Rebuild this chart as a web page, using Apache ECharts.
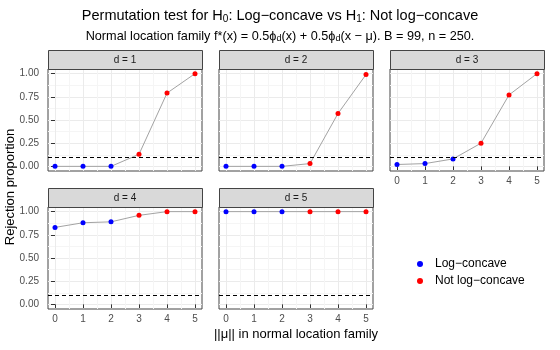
<!DOCTYPE html>
<html>
<head>
<meta charset="utf-8">
<script src="https://cdn.jsdelivr.net/npm/echarts@6/dist/echarts.min.js"></script>
<style>
    html, body { margin: 0; padding: 0; background: #fff; }
    #main { width: 560px; height: 350px; }
</style>
</head>
<body>
<div id="main"></div>
<script>
// ||mu|| on the x axis
var mu = [0, 1, 2, 3, 4, 5];
// mixture is log-concave for ||mu|| <= 2
var logConcave = [true, true, true, false, false, false];
var panelNames = ['d = 1', 'd = 2', 'd = 3', 'd = 4', 'd = 5'];
// rejection proportions, one array per dimension
var d1 = [0.00, 0.00, 0.00, 0.13, 0.79, 1.00];
var d2 = [0.00, 0.00, 0.00, 0.03, 0.57, 0.99];
var d3 = [0.02, 0.03, 0.08, 0.25, 0.77, 1.00];
var d4 = [0.83, 0.88, 0.89, 0.96, 1.00, 1.00];
var d5 = [1.00, 1.00, 1.00, 1.00, 1.00, 1.00];
var panelData = [d1, d2, d3, d4, d5];
var alphaLevel = 0.1;
var xTicks = [0, 1, 2, 3, 4, 5];
var yTicks = [0, 0.25, 0.5, 0.75, 1];
var seriesNames = ['Log\u2212concave', 'Not log\u2212concave'];

var FONT = '"Liberation Sans", Arial, sans-serif';

// panel layout (facet_wrap, 3 columns)
var colLeft = [48, 219, 390];
var rowTop = [69, 207];
var panelW = 154, panelH = 102, stripH = 19;

var chart = echarts.init(document.getElementById('main'));

var grids = [], xAxes = [], yAxes = [], series = [], graphics = [];

panelData.forEach(function (vals, i) {
    var r = i < 3 ? 0 : 1;
    var c = i % 3;
    var showX = (i >= 2);      // panels with nothing below them
    var showY = (c === 0);

    grids.push({
        left: colLeft[c], top: rowTop[r], width: panelW, height: panelH,
        show: true, backgroundColor: '#fff', borderColor: '#444', borderWidth: 1,
        containLabel: false, outerBoundsMode: 'none'
    });

    xAxes.push({
        gridIndex: i, type: 'value', min: -0.25, max: 5.25,
        minInterval: 1, maxInterval: 1, splitNumber: 5,
        axisLine: { show: false },
        axisTick: { show: showX, length: 4, customValues: xTicks, lineStyle: { color: '#333' } },
        axisLabel: {
            show: showX, customValues: xTicks, margin: 5, color: '#4D4D4D',
            fontSize: 10, fontFamily: FONT,
            formatter: function (v) { return Number.isInteger(v) ? String(v) : ''; }
        },
        splitLine: { show: true, lineStyle: { color: '#EBEBEB', width: 1 } },
        minorTick: { show: false, splitNumber: 2 },
        minorSplitLine: { show: true, lineStyle: { color: '#F5F5F5', width: 1 } }
    });

    yAxes.push({
        gridIndex: i, type: 'value', min: -0.05, max: 1.05,
        minInterval: 0.25, maxInterval: 0.25, splitNumber: 4,
        axisLine: { show: false },
        axisTick: { show: showY, length: 4, customValues: yTicks, lineStyle: { color: '#333' } },
        axisLabel: {
            show: showY, customValues: yTicks, margin: 9, color: '#4D4D4D',
            fontSize: 10, fontFamily: FONT,
            formatter: function (v) {
                return (v >= 0 && v <= 1 && Math.abs(v * 4 - Math.round(v * 4)) < 1e-9) ? v.toFixed(2) : '';
            }
        },
        splitLine: { show: true, lineStyle: { color: '#EBEBEB', width: 1 } },
        minorTick: { show: false, splitNumber: 2 },
        minorSplitLine: { show: true, lineStyle: { color: '#F5F5F5', width: 1 } }
    });

    // grey connecting line + dashed level line
    series.push({
        type: 'line', xAxisIndex: i, yAxisIndex: i, silent: true,
        symbol: 'none', z: 2,
        data: mu.map(function (m, j) { return [m, vals[j]]; }),
        lineStyle: { color: '#A3A3A3', width: 1 },
        markLine: {
            symbol: 'none', silent: true, animation: false,
            label: { show: false },
            lineStyle: { color: '#000', type: [4, 3], width: 1 },
            data: [{ yAxis: alphaLevel }]
        }
    });

    // points coloured by log-concavity
    [true, false].forEach(function (flag, k) {
        series.push({
            name: seriesNames[k], type: 'scatter', xAxisIndex: i, yAxisIndex: i,
            symbolSize: 5, z: 3,
            itemStyle: { color: flag ? '#0000FF' : '#FF0000', opacity: 1 },
            data: mu.map(function (m, j) { return [m, vals[j]]; })
                    .filter(function (p, j) { return logConcave[j] === flag; })
        });
    });

    // facet strip
    graphics.push({
        type: 'rect', z: 10,
        shape: { x: colLeft[c] + 0.5, y: rowTop[r] - stripH + 0.5, width: panelW, height: stripH },
        style: { fill: '#D9D9D9', stroke: '#444', lineWidth: 1 }
    });
    graphics.push({
        type: 'text', z: 11,
        x: colLeft[c] + panelW / 2, y: rowTop[r] - stripH / 2 + 1,
        style: {
            text: panelNames[i], fill: '#1A1A1A', font: '10px ' + FONT,
            align: 'center', verticalAlign: 'middle'
        }
    });
});

// axis titles
graphics.push({
    type: 'text', x: 10, y: 187, rotation: Math.PI / 2,
    style: { text: 'Rejection proportion', fill: '#000', font: '13px ' + FONT, align: 'center', verticalAlign: 'middle' }
});
graphics.push({
    type: 'text', x: 296, y: 334,
    style: { text: '||\u03bc|| in normal location family', fill: '#000', font: '13px ' + FONT, align: 'center', verticalAlign: 'middle' }
});

var option = {
    animation: false,
    title: {
        left: 'center', top: 3, itemGap: 6,
        text: 'Permutation test for H{s|0}: Log\u2212concave vs H{s|1}: Not log\u2212concave',
        subtext: 'Normal location family f*(x) = 0.5\u03d5{s|d}(x) + 0.5\u03d5{s|d}(x \u2212 \u03bc). B = 99, n = 250.',
        textStyle: {
            fontSize: 14.5, fontWeight: 'normal', color: '#000', fontFamily: FONT,
            rich: { s: { fontSize: 10, fontFamily: FONT, color: '#000', verticalAlign: 'bottom', padding: [6, 0, 0, 0] } }
        },
        subtextStyle: {
            fontSize: 12.7, color: '#000', fontFamily: FONT,
            rich: { s: { fontSize: 9, fontFamily: FONT, color: '#000', verticalAlign: 'bottom', padding: [5, 0, 0, 0] } }
        }
    },
    legend: {
        orient: 'vertical', left: 412, top: 253,
        itemWidth: 20, itemHeight: 6, itemGap: 5,
        icon: 'circle', selectedMode: false,
        textStyle: { fontSize: 12, color: '#000', fontFamily: FONT },
        data: seriesNames
    },
    grid: grids,
    xAxis: xAxes,
    yAxis: yAxes,
    series: series,
    graphic: graphics
};

chart.setOption(option);
</script>
</body>
</html>
